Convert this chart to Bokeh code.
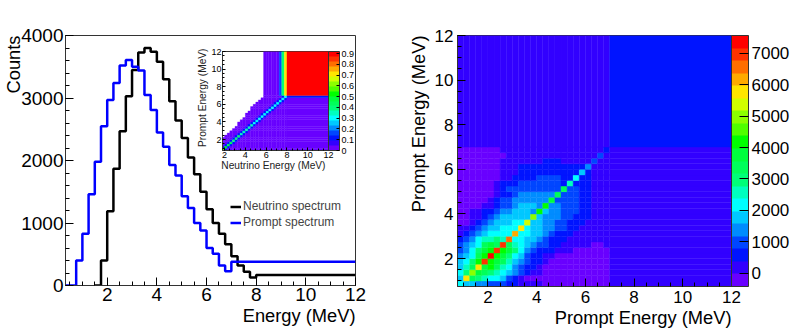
from bokeh.plotting import figure
from bokeh.embed import file_html
from bokeh.resources import INLINE
from bokeh.models import (AllLabels, ColorBar, FixedTicker, Legend, LegendItem, LinearColorMapper,
                          Range1d, SingleIntervalTicker, Title)
from bokeh.transform import transform
from bokeh.models import ColumnDataSource

FONT = "Liberation Sans"
DARK = "#333333"

palette = ["#6900ff", "#3200ff", "#0014ff", "#0046ff", "#008cff", "#00c8ff", "#00ffff", "#00ffbe",
           "#00ff78", "#00ff5a", "#00ff3c", "#00ff00", "#50ff00", "#8cff00", "#d2ff00", "#ffe600",
           "#ffaa00", "#ff6e00", "#ff3200", "#ff0000"]

# Spectra (left panel)
neutrino_edges = [1.5, 1.75, 2.0, 2.25, 2.5, 2.75, 3.0, 3.25, 3.5, 3.75, 4.0, 4.25, 4.5, 4.75, 5.0, 5.25,
                  5.5, 5.75, 6.0, 6.25, 6.5, 6.75, 7.0, 7.25, 7.5, 7.75, 8.0, 12.0]
neutrino_counts = [0, 400, 1190, 1870, 2470, 3030, 3450, 3730, 3800, 3740, 3580, 3300, 2950, 2640, 2360, 2050,
                   1780, 1500, 1220, 1000, 830, 660, 470, 320, 220, 130, 170, 170]
prompt_edges = [0.32, 0.75, 1.0, 1.25, 1.5, 1.75, 2.0, 2.25, 2.5, 2.75, 3.0, 3.25, 3.5, 3.75, 4.0, 4.25, 4.5,
                4.75, 5.0, 5.25, 5.5, 5.75, 6.0, 6.25, 6.5, 6.75, 7.0, 12.0]
prompt_counts = [0, 400, 830, 1460, 1980, 2550, 2970, 3240, 3520, 3610, 3500, 3440, 3050, 2810, 2450, 2220, 1930,
                 1760, 1430, 1240, 1000, 880, 600, 510, 320, 230, 380, 380]

# Response matrix (right panel): colour band read from each cell, bottom row first
band_counts = [-200, 200, 600, 1000, 1400, 1800, 2200, 2600, 3000, 3400, 3800, 4200, 4600, 5000, 5400, 5800,
               6200, 6600, 7000, 7400]
matrix_edges = [0.75, 1.0, 1.25, 1.5, 1.75, 2.0, 2.25, 2.5, 2.75, 3.0, 3.25, 3.5, 3.75, 4.0, 4.25, 4.5, 4.75,
                5.0, 5.25, 5.5, 5.75, 6.0, 6.25, 6.5, 6.75, 7.0, 12.0]
matrix_bands = [
    [6,5,5,4,4,3,3,3,2,2,1,1,1,1,0,0,0,0,0,0,0,0,0,0,0,1],
    [5,15,9,8,7,6,6,5,3,2,1,0,0,0,0,0,0,0,0,0,0,0,0,0,0,1],
    [6,8,13,10,9,8,7,6,5,4,3,2,1,1,0,0,0,0,0,0,0,0,0,0,0,1],
    [5,7,9,15,10,11,9,7,6,4,3,2,2,1,0,0,0,0,0,0,0,0,0,0,0,1],
    [5,6,8,11,18,11,10,9,7,5,4,3,2,2,1,0,0,0,0,0,0,0,0,0,0,1],
    [4,5,6,9,11,19,11,10,8,6,5,3,2,2,1,1,0,0,0,0,0,0,0,0,0,1],
    [3,4,6,8,10,11,18,11,10,8,6,4,3,2,2,2,1,1,1,0,0,0,0,0,0,1],
    [3,4,5,6,9,10,9,18,9,7,6,5,4,3,3,2,2,1,1,1,1,1,0,0,1,1],
    [2,3,4,6,7,7,8,7,17,6,6,5,5,4,3,2,2,2,1,1,1,1,1,1,1,1],
    [1,2,3,4,5,6,6,6,6,16,6,6,5,5,4,3,2,2,2,1,1,1,1,1,1,1],
    [1,1,2,3,4,5,5,6,6,6,15,6,5,5,4,4,3,3,2,2,1,1,1,1,1,1],
    [0,0,1,2,3,4,5,5,5,6,6,14,5,5,4,4,3,3,2,2,2,1,1,1,1,1],
    [0,0,1,1,2,3,4,5,5,5,5,5,13,5,4,4,4,3,3,2,2,2,1,1,1,1],
    [0,0,1,1,2,2,3,4,4,5,5,5,4,11,5,4,4,3,3,3,2,2,1,1,1,1],
    [0,0,0,0,1,1,2,3,3,4,5,5,5,4,11,4,4,3,3,3,2,2,1,1,1,1],
    [0,0,0,0,0,1,2,3,3,4,4,4,4,4,4,10,3,3,3,3,2,2,1,1,1,1],
    [0,0,0,0,0,0,1,2,2,3,4,4,4,4,4,4,9,3,3,3,2,2,1,1,1,1],
    [0,0,0,0,0,0,1,2,3,3,3,3,3,3,3,3,3,9,3,3,2,2,1,1,1,1],
    [0,0,0,0,0,0,1,2,2,2,3,3,3,3,3,3,3,2,7,2,2,2,1,1,1,1],
    [0,0,0,0,0,0,0,1,1,2,2,2,2,3,3,3,3,2,2,6,2,2,1,1,1,1],
    [0,0,0,0,0,0,0,1,1,1,2,2,2,2,2,2,2,2,2,2,5,2,1,1,1,1],
    [0,0,0,0,0,0,0,1,1,1,2,2,2,2,2,2,2,2,2,2,2,4,1,1,1,1],
    [0,0,0,0,0,0,0,1,1,1,1,1,1,1,2,2,2,1,1,1,1,1,3,1,1,1],
    [0,0,0,0,0,0,0,0,1,1,1,1,1,1,1,1,1,1,1,1,1,1,1,3,1,1],
    [0,0,0,0,0,0,0,1,1,1,1,1,1,1,1,1,1,1,1,1,1,1,1,1,2,1],
    [1,1,1,1,1,1,1,1,1,1,1,1,1,1,1,1,1,1,1,1,1,1,1,1,1,2],
]

# Inset: fraction in each cell, columns in neutrino energy
inset_x_edges = [1.75, 2.0, 2.25, 2.5, 2.75, 3.0, 3.25, 3.5, 3.75, 4.0, 4.25, 4.5, 4.75, 5.0, 5.25, 5.5, 5.75,
                 6.0, 6.25, 6.5, 6.75, 7.0, 7.25, 7.5, 7.75, 8.0, 12.0]
inset_y_edges = matrix_edges
inset_column_top = [2.25, 2.5, 2.75, 3.0, 3.25, 3.5, 4.0, 4.25, 4.5, 5.0, 5.25, 5.75, 6.0, 6.25, 6.5, 6.75,
                    7.0, 7.0, 7.0, 7.0, 7.0, 7.0, 7.0, 7.0, 7.0, 7.0]
inset_ridge = [0.58, 0.5, 0.45, 0.42, 0.4, 0.38, 0.37, 0.36, 0.35, 0.35, 0.34, 0.33, 0.32, 0.32, 0.31, 0.31,
               0.3, 0.3, 0.3, 0.3, 0.3, 0.3, 0.3, 0.3, 0.3]
inset_ridge_side = 0.12
inset_floor = 0.02
inset_upper_band = [None, None, None, None, None, None, None, None, None, None, None, None, None, None, None, None,
                    0.02, 0.02, 0.02, 0.02, 0.02, 0.02, 0.16, 0.39, 0.71, 0.9]
inset_ticks = [0, 0.1, 0.2, 0.3, 0.4, 0.5, 0.6, 0.7, 0.8, 0.9]
count_ticks = [0, 1000, 2000, 3000, 4000, 5000, 6000, 7000]

assert all(len(row) == 26 for row in matrix_bands) and len(matrix_bands) == 26


def style_axes(p, size, major, minor, x_tick, y_tick, x_minor, y_minor, standoff):
    for ax, tick, nminor in ((p.xaxis[0], x_tick, x_minor), (p.yaxis[0], y_tick, y_minor)):
        ax.ticker = SingleIntervalTicker(interval=tick, num_minor_ticks=nminor)
        ax.major_tick_in = major
        ax.major_tick_out = 0
        ax.minor_tick_in = minor
        ax.minor_tick_out = 0
        ax.major_tick_line_color = "black"
        ax.minor_tick_line_color = "black"
        ax.axis_line_color = DARK
        ax.major_label_text_font = FONT
        ax.major_label_text_font_size = size
        ax.major_label_text_color = "black"
        ax.major_label_standoff = standoff
    p.grid.visible = False
    p.outline_line_color = DARK
    p.outline_line_alpha = 1
    p.outline_line_width = 1


def side_title(p, text, side, size, standoff, offset=0, color="black"):
    p.add_layout(Title(text=text, align="right", offset=offset, standoff=standoff, text_font=FONT,
                       text_font_style="normal", text_font_size=size, text_color=color), side)


def colorbar(p, mapper, width, height, ticks, size, tick_len, standoff):
    cb = ColorBar(color_mapper=mapper, width=width, height=height, padding=0, margin=0,
                  ticker=FixedTicker(ticks=ticks), major_tick_in=tick_len, major_tick_out=0,
                  major_tick_line_color="black", minor_tick_line_color=None, bar_line_color=DARK,
                  major_label_text_font=FONT, major_label_text_font_size=size, major_label_text_color="black",
                  major_label_policy=AllLabels(),
                  label_standoff=standoff, border_line_color=None, background_fill_alpha=0)
    p.add_layout(cb, "right")


# ---------- left ----------
left = figure(frame_width=290, frame_height=250, min_border_left=65, min_border_right=12, min_border_top=27,
              min_border_bottom=44, x_range=Range1d(0.32, 12), y_range=Range1d(0, 4000),
              output_backend="svg", toolbar_location=None, tools="",
              styles={"position": "absolute", "left": "0px", "top": "8px"})
style_axes(left, "19px", 8, 4, 2, 1000, 4, 5, 2)
r1 = left.step(neutrino_edges, neutrino_counts, mode="after", line_color="black", line_width=2.5)
r2 = left.step(prompt_edges, prompt_counts, mode="after", line_color="#0000ff", line_width=2.5)
leg = Legend(items=[LegendItem(label="Neutrino spectrum", renderers=[r1]),
                    LegendItem(label="Prompt spectrum", renderers=[r2])],
             location=(165, 56), padding=0, margin=0, spacing=2, border_line_color=None, background_fill_alpha=0,
             glyph_width=11, glyph_height=13, label_standoff=2, label_text_font=FONT, label_text_font_size="12px")
left.add_layout(leg, "center")
side_title(left, "Energy (MeV)", "below", "18.3px", -2)
side_title(left, "Counts", "left", "18.3px", -11)

# ---------- right ----------
right = figure(frame_width=274, frame_height=251, min_border_left=57, min_border_right=10, min_border_top=27,
               min_border_bottom=44, x_range=Range1d(0.75, 12), y_range=Range1d(0.75, 12),
               output_backend="svg", toolbar_location=None, tools="",
               styles={"position": "absolute", "left": "400px", "top": "8px"})
style_axes(right, "17px", 8, 4, 2, 2, 4, 4, 4)
count_mapper = LinearColorMapper(palette=palette, low=-430, high=7570)
cells = dict(left=[], right=[], bottom=[], top=[], value=[])
for r, row in enumerate(matrix_bands):
    for c, band in enumerate(row):
        cells["left"].append(matrix_edges[c])
        cells["right"].append(matrix_edges[c + 1])
        cells["bottom"].append(matrix_edges[r])
        cells["top"].append(matrix_edges[r + 1])
        cells["value"].append(band_counts[band])
right.quad(left="left", right="right", bottom="bottom", top="top", source=ColumnDataSource(cells),
           fill_color=transform("value", count_mapper), line_color=transform("value", count_mapper), line_width=0.4)
colorbar(right, count_mapper, 17, 251, count_ticks, "17px", 9, 3)
side_title(right, "Prompt Energy (MeV)", "below", "18.3px", -1)
side_title(right, "Prompt Energy (MeV)", "left", "18.3px", 5)

# ---------- inset ----------
inset = figure(frame_width=106, frame_height=99, min_border_left=32, min_border_right=6, min_border_top=11,
               min_border_bottom=30, x_range=Range1d(1.8, 12), y_range=Range1d(0.75, 12),
               output_backend="svg", toolbar_location=None, tools="",
               background_fill_alpha=0, border_fill_alpha=0,
               styles={"position": "absolute", "left": "190px", "top": "40px"})
style_axes(inset, "9px", 3, 2, 2, 2, 4, 4, 1)
fraction_mapper = LinearColorMapper(palette=palette, low=0, high=0.92)
icells = dict(left=[], right=[], bottom=[], top=[], value=[])
for c in range(len(inset_x_edges) - 1):
    for r in range(len(inset_y_edges) - 1):
        if r == len(inset_y_edges) - 2:
            v = inset_upper_band[c]
        elif inset_y_edges[r + 1] > inset_column_top[c]:
            v = None
        elif r == c and c < len(inset_ridge):
            v = inset_ridge[c]
        elif abs(r - c) == 1:
            v = inset_ridge_side
        else:
            v = inset_floor
        if v is None:
            continue
        icells["left"].append(inset_x_edges[c])
        icells["right"].append(inset_x_edges[c + 1])
        icells["bottom"].append(inset_y_edges[r])
        icells["top"].append(inset_y_edges[r + 1])
        icells["value"].append(v)
inset.quad(left="left", right="right", bottom="bottom", top="top", source=ColumnDataSource(icells),
           fill_color=transform("value", fraction_mapper), line_color=transform("value", fraction_mapper),
           line_width=0.3)
colorbar(inset, fraction_mapper, 11, 99, inset_ticks, "9px", 3, 2)
side_title(inset, "Neutrino Energy (MeV)", "below", "10.2px", -6, offset=3, color="#222222")
side_title(inset, "Prompt Energy (MeV)", "left", "10.2px", 2, offset=-3, color="#222222")

open("out.html", "w").write(file_html([left, right, inset], INLINE))
